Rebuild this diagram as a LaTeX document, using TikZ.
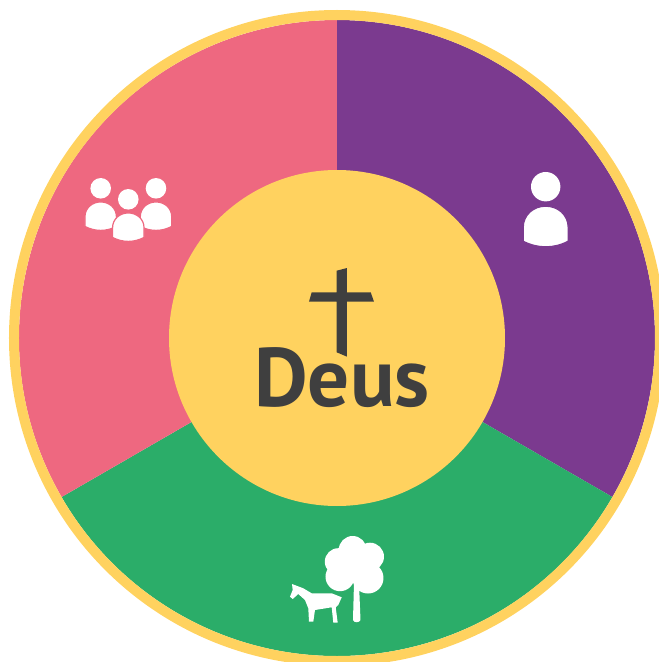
\documentclass[tikz,border=0pt]{standalone}
\usepackage{fontspec}
\setmainfont{PT Sans}
\definecolor{ringyellow}{HTML}{FFD25F}
\definecolor{sectorpink}{HTML}{EE6880}
\definecolor{sectorpurple}{HTML}{7B3A8F}
\definecolor{sectorgreen}{HTML}{2BAD69}
\definecolor{darktext}{HTML}{3F3F3F}
\tikzset{
  person/.pic = {
    \fill[white] (0,0) circle (14.7);
    \path[fill=white, draw=#1, line width=1.2] (-22.5,-54.5) -- (-22.5,-41) .. controls (-22.5,-28) and (-12,-19.5) .. (0,-19.5)
      .. controls (12,-19.5) and (22.5,-28) .. (22.5,-41) -- (22.5,-54.5) .. controls (8,-62) and (-8,-62) .. (-22.5,-54.5) -- cycle;
  }
}
\begin{document}
\begin{tikzpicture}[x=1pt,y=1pt,hub/.style = {circle, fill=ringyellow, minimum size=336pt, inner sep=0pt},icon/.style = {fill=white}] 
        \useasboundingbox (-337,-324) rectangle (322,338);
        \clip (-337,-324) rectangle (322,338);
        \fill[sectorpurple] (0,0) -- (90:318) arc (90:-30:318) -- cycle;
        \fill[sectorgreen] (0,0) -- (-30:318) arc (-30:-150:318) -- cycle;
        \fill[sectorpink] (0,0) -- (210:318) arc (210:90:318) -- cycle;
        \draw[ringyellow, line width=10pt] (0,0) circle (323);
        \node[hub] (hub) at (0,0) {};
        % cross and title
        \fill[darktext] (-0.3,67.3) -- (10,70) -- (10,45.7) -- (33.7,45.7) -- (37,36.3) -- (10,36.3) -- (10,-18.7) -- (-0.3,-14.3) -- (-0.3,36.3) -- (-28,36.3) -- (-25.3,45.7) -- (-0.3,45.7) -- cycle;
        \node[anchor=base, text=darktext, inner sep=0pt, font=\fontsize{83}{83}\selectfont\bfseries] (title) at (5,-68) {Deus};
        % purple sector
        \pic at (208.7,151.3) {person=sectorpurple};
        % pink sector
        \pic[scale=0.7] at (-236.3,149.7) {person=sectorpink};
        \pic[scale=0.7] at (-181,149.7) {person=sectorpink};
        \pic[scale=0.7] at (-208.7,138.7) {person=sectorpink};
        % green sector
        \fill[icon] (15.7,-212) circle (14) (1.3,-223.7) circle (13.5) (33,-218.7) circle (14) (3,-238.7) circle (14.5) (31,-240) circle (15.5) (17,-227) circle (18);
        \fill[icon] (17,-245) -- (22,-245) -- (23.5,-282) .. controls (22,-285) and (17,-285) .. (16,-282) -- cycle;
        \fill[icon] (-45,-246) -- (-33.7,-250.3) -- (-25.3,-255.3) -- (-5.3,-255.3) -- (4.7,-259.3) -- (1.3,-267) -- (-1.3,-269.3) -- (0.7,-284.7) -- (-3.7,-284.7) -- (-5.3,-269.3) -- (-22,-272) -- (-23.7,-283.7) -- (-28,-283.7) -- (-28.7,-270.3) -- (-32,-262) -- (-38.7,-256) -- (-44.3,-261) -- (-47,-258.7) -- (-44.3,-252) -- cycle;
        \end{tikzpicture}
\end{document}
